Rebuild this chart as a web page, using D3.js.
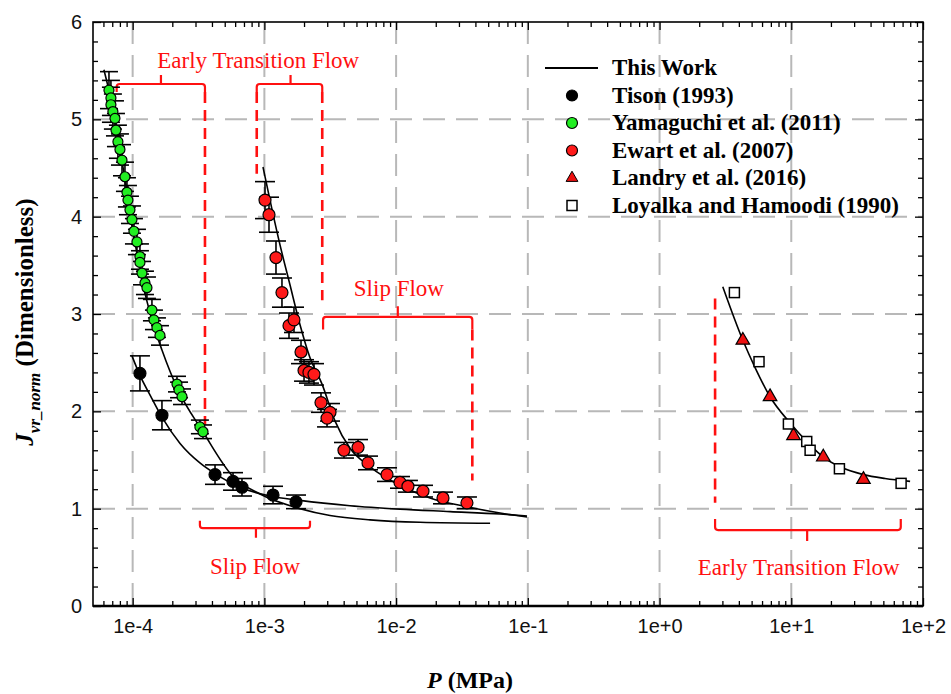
<!DOCTYPE html>
<html>
<head>
<meta charset="utf-8">
<script src="https://cdn.jsdelivr.net/npm/d3@7/dist/d3.min.js"></script>
<style>
  body { margin: 0; background: #fff; }
  .tick text { font-family: "Liberation Sans", Arial, sans-serif; font-size: 20px; fill: #111; }
</style>
</head>
<body>
<script>
// ---- data ----
var tisonP = [1.136e-4, 1.669e-4, 4.22e-4, 5.78e-4, 6.76e-4, 1.163e-3, 1.738e-3];
var tisonJ = [2.39, 1.96, 1.35, 1.28, 1.22, 1.14, 1.07];
var tisonErr = [0.18, 0.15, 0.10, 0.09, 0.09, 0.09, 0.07];

var yamaP = [6.61e-5, 6.84e-5, 6.84e-5, 7.08e-5, 7.34e-5, 7.47e-5, 7.73e-5, 8.01e-5, 8.30e-5, 8.74e-5,
  9.05e-5, 9.21e-5, 9.54e-5, 9.88e-5, 1.023e-4, 1.078e-4, 1.136e-4, 1.136e-4, 1.177e-4, 1.24e-4,
  1.284e-4, 1.401e-4, 1.451e-4, 1.529e-4, 1.612e-4, 2.17e-4, 2.25e-4, 2.37e-4, 3.24e-4, 3.42e-4];
var yamaJ = [5.30, 5.22, 5.15, 5.08, 5.01, 4.89, 4.77, 4.69, 4.58, 4.41,
  4.25, 4.17, 4.07, 3.97, 3.85, 3.74, 3.59, 3.53, 3.42, 3.32,
  3.27, 3.04, 2.94, 2.86, 2.78, 2.28, 2.22, 2.15, 1.84, 1.79];
var yamaErr = [0.19, 0.18, 0.18, 0.18, 0.18, 0.17, 0.17, 0.16, 0.16, 0.15,
  0.15, 0.15, 0.14, 0.14, 0.13, 0.13, 0.13, 0.12, 0.12, 0.12,
  0.11, 0.11, 0.10, 0.10, 0.10, 0.08, 0.08, 0.08, 0.07, 0.07];

var ewartP = [1.011e-3, 1.084e-3, 1.225e-3, 1.36e-3, 1.538e-3, 1.678e-3, 1.897e-3, 2.0e-3, 2.18e-3, 2.38e-3,
  2.69e-3, 3.15e-3, 2.99e-3, 4.02e-3, 5.14e-3, 6.12e-3, 8.53e-3, 0.0107, 0.0123, 0.0160, 0.0227, 0.0345];
var ewartJ = [4.17, 4.02, 3.58, 3.22, 2.88, 2.94, 2.61, 2.42, 2.40, 2.38,
  2.09, 1.99, 1.93, 1.60, 1.63, 1.47, 1.35, 1.27, 1.23, 1.18, 1.11, 1.06];
var ewartErr = [0.19, 0.18, 0.17, 0.15, 0.13, 0.13, 0.12, 0.11, 0.11, 0.11,
  0.10, 0.09, 0.09, 0.08, 0.08, 0.07, 0.07, 0.06, 0.06, 0.06, 0.06, 0.06];

var landryP = [4.29, 6.90, 10.4, 17.5, 35.3];
var landryJ = [2.73, 2.15, 1.75, 1.53, 1.30];

var loyalkaP = [3.70, 5.69, 9.51, 13.1, 13.9, 23.2, 68.2];
var loyalkaJ = [3.22, 2.51, 1.87, 1.69, 1.60, 1.41, 1.26];

// "This Work" model curves
var fitYamaP = [6.05e-5, 6.73e-5, 7.6e-5, 8.74e-5, 1.005e-4, 1.177e-4, 1.401e-4, 1.669e-4, 2.21e-4, 3.42e-4,
  5.78e-4, 9.26e-4, 1.864e-3, 3.15e-3, 6.34e-3, 0.0152, 0.0517];
var fitYamaJ = [5.51, 5.25, 4.89, 4.38, 3.86, 3.35, 2.94, 2.63, 2.22, 1.79,
  1.33, 1.15, 1.00, 0.93, 0.885, 0.86, 0.85];

var fitTisonP = [9.88e-5, 1.136e-4, 1.353e-4, 1.669e-4, 2.29e-4, 3.24e-4, 4.22e-4, 6.53e-4, 1.103e-3, 1.864e-3,
  4.47e-3, 0.0107, 0.0257, 0.0615, 0.0986];
var fitTisonJ = [2.57, 2.37, 2.17, 1.94, 1.67, 1.47, 1.36, 1.22, 1.13, 1.085,
  1.03, 0.995, 0.97, 0.945, 0.925];

var fitEwartP = [9.76e-4, 1.103e-3, 1.314e-3, 1.564e-3, 1.864e-3, 2.22e-3, 2.74e-3, 3.44e-3, 4.47e-3, 6.34e-3,
  0.0107, 0.0181, 0.0345, 0.0615, 0.0986];
var fitEwartJ = [4.51, 4.17, 3.71, 3.30, 2.89, 2.55, 2.28, 1.90, 1.62, 1.43,
  1.24, 1.11, 1.02, 0.955, 0.915];

var fitLandryP = [3.02, 4.29, 5.31, 6.90, 9.8, 13.1, 17.5, 23.5, 35.3, 51.5, 79.8];
var fitLandryJ = [3.28, 2.73, 2.45, 2.15, 1.88, 1.69, 1.53, 1.43, 1.35, 1.31, 1.28];

var xTicks = [1e-4, 1e-3, 1e-2, 1e-1, 1e0, 1e1, 1e2];
var xTickLabels = ["1e-4", "1e-3", "1e-2", "1e-1", "1e+0", "1e+1", "1e+2"];
var yTicks = [0, 1, 2, 3, 4, 5, 6];

var legendNames = ["This Work", "Tison (1993)", "Yamaguchi et al. (2011)", "Ewart et al. (2007)",
  "Landry et al. (2016)", "Loyalka and Hamoodi (1990)"];

// flow-regime annotations (in data units)
var bracketP0 = [7.56e-5, 8.75e-4, 2.79e-3, 3.24e-4, 2.64];
var bracketP1 = [3.54e-4, 2.75e-3, 0.0379, 2.22e-3, 67.8];
var bracketPc = [1.64e-4, 1.58e-3, 0.0103, 8.63e-4, 13.2];
var bracketJ = [5.363, 5.363, 2.97, 0.80, 0.78];
var bracketHookJ = [5.28, 5.28, 2.84, 0.875, 0.894];
var bracketTipJ = [5.456, 5.456, 3.08, 0.70, 0.668];

var dashP = [3.54e-4, 8.75e-4, 2.75e-3, 0.0379, 2.64];
var dashJ0 = [5.28, 5.28, 5.28, 2.84, 3.16];
var dashJ1 = [1.86, 4.44, 3.14, 1.29, 1.06];

var regionText = ["Early Transition Flow", "Slip Flow", "Slip Flow", "Early Transition Flow"];
var regionP = [8.99e-4, 0.0105, 8.5e-4, 11.4];
var regionJ = [5.524, 3.18, 0.33, 0.32];

// ---- layout ----
var margin = { top: 22, right: 28, bottom: 88, left: 93 },
  width = 951 - margin.left - margin.right,
  height = 694 - margin.top - margin.bottom;

var svg = d3
  .select("body")
  .append("svg")
  .attr("width", width + margin.left + margin.right)
  .attr("height", height + margin.top + margin.bottom)
  .append("g")
  .attr("transform", "translate(" + margin.left + "," + margin.top + ")");

var x = d3.scaleLog().domain([5e-5, 100]).range([0, width]);
var y = d3.scaleLinear().domain([0, 6]).range([height, 0]);

// minor ticks
var xMinor = [];
[-5, -4, -3, -2, -1, 0, 1].forEach(function (e) {
  for (var k = 2; k <= 9; k++) {
    var v = k * Math.pow(10, e);
    if (v > 5e-5 && v < 100) xMinor.push(v);
  }
});
var yMinor = d3.range(0, 30).map(function (i) { return i * 0.2; }).filter(function (v, i) { return i % 5 != 0; });

// dashed grid
var grid = svg.append("g").attr("stroke", "#b8b8b8").attr("stroke-width", 2).attr("stroke-dasharray", "22,11");
grid.selectAll(".gx").data(xTicks.slice(0, 6)).enter().append("line")
  .attr("x1", function (d) { return x(d); }).attr("x2", function (d) { return x(d); })
  .attr("y1", 0).attr("y2", height);
grid.selectAll(".gy").data([1, 2, 3, 4, 5]).enter().append("line")
  .attr("y1", function (d) { return y(d); }).attr("y2", function (d) { return y(d); })
  .attr("x1", 0).attr("x2", width);

// axes, ticks pointing inside
function styleAxis(g) {
  g.select(".domain").remove();
  g.selectAll(".tick line").attr("stroke", "#000").attr("stroke-width", 1.3);
}
svg.append("g").attr("transform", "translate(0," + height + ")")
  .call(d3.axisBottom(x).tickValues(xTicks).tickSizeInner(-8).tickPadding(13)
    .tickFormat(function (d, i) { return xTickLabels[i]; }))
  .call(styleAxis);
svg.append("g").attr("transform", "translate(0," + height + ")")
  .call(d3.axisBottom(x).tickValues(xMinor).tickSizeInner(-5).tickFormat(""))
  .call(styleAxis);
svg.append("g")
  .call(d3.axisTop(x).tickValues(xTicks).tickSizeInner(-8).tickFormat(""))
  .call(styleAxis);
svg.append("g")
  .call(d3.axisTop(x).tickValues(xMinor).tickSizeInner(-5).tickFormat(""))
  .call(styleAxis);
svg.append("g")
  .call(d3.axisLeft(y).tickValues(yTicks).tickSizeInner(-8).tickPadding(11).tickFormat(d3.format("d")))
  .call(styleAxis);
svg.append("g")
  .call(d3.axisLeft(y).tickValues(yMinor).tickSizeInner(-5).tickFormat(""))
  .call(styleAxis);
svg.append("g").attr("transform", "translate(" + width + ",0)")
  .call(d3.axisRight(y).tickValues(yTicks).tickSizeInner(-8).tickFormat(""))
  .call(styleAxis);
svg.append("g").attr("transform", "translate(" + width + ",0)")
  .call(d3.axisRight(y).tickValues(yMinor).tickSizeInner(-5).tickFormat(""))
  .call(styleAxis);

svg.append("rect").attr("x", 0).attr("y", 0).attr("width", width).attr("height", height)
  .attr("fill", "none").attr("stroke", "#000").attr("stroke-width", 1.6);
svg.append("line").attr("x1", 0).attr("x2", width).attr("y1", height).attr("y2", height)
  .attr("stroke", "#000").attr("stroke-width", 2.4);

// red regime annotations
var red = "#ff1010";
var ann = svg.append("g").attr("fill", "none").attr("stroke", red).attr("stroke-width", 2.2);
bracketP0.forEach(function (p0, i) {
  var x0 = x(p0), x1 = x(bracketP1[i]), xc = x(bracketPc[i]);
  var yb = y(bracketJ[i]), yh = y(bracketHookJ[i]), yt = y(bracketTipJ[i]);
  var s = yh > yb ? 1 : -1;
  ann.append("path").attr("d",
    "M" + x0 + "," + yh + " L" + x0 + "," + (yb + s * 3) + " Q" + x0 + "," + yb + " " + (x0 + 3) + "," + yb +
    " L" + (x1 - 3) + "," + yb + " Q" + x1 + "," + yb + " " + x1 + "," + (yb + s * 3) + " L" + x1 + "," + yh +
    " M" + xc + "," + yb + " L" + xc + "," + yt);
});
dashP.forEach(function (p, i) {
  ann.append("line").attr("x1", x(p)).attr("x2", x(p))
    .attr("y1", y(dashJ0[i])).attr("y2", y(dashJ1[i]))
    .attr("stroke-width", 2.6).attr("stroke-dasharray", "11,7");
});
regionText.forEach(function (t, i) {
  svg.append("text").attr("x", x(regionP[i])).attr("y", y(regionJ[i]))
    .attr("text-anchor", "middle").attr("fill", red)
    .style("font-family", "'Liberation Serif', 'Times New Roman', serif").style("font-size", "23px")
    .text(t);
});

// model curves
var line = d3.line()
  .x(function (d) { return x(d[0]); })
  .y(function (d) { return y(d[1]); })
  .curve(d3.curveMonotoneX);
[[fitYamaP, fitYamaJ], [fitTisonP, fitTisonJ], [fitEwartP, fitEwartJ], [fitLandryP, fitLandryJ]]
  .forEach(function (c) {
    svg.append("path").datum(d3.zip(c[0], c[1]))
      .attr("d", line).attr("fill", "none").attr("stroke", "#000").attr("stroke-width", 1.6);
  });

// error bars + markers
function errorBars(P, J, E, cap) {
  var g = svg.append("g").attr("stroke", "#000").attr("stroke-width", 1.6);
  P.forEach(function (p, i) {
    var cx = x(p), lo = y(J[i] - E[i]), hi = y(J[i] + E[i]);
    g.append("line").attr("x1", cx).attr("x2", cx).attr("y1", lo).attr("y2", hi);
    g.append("line").attr("x1", cx - cap).attr("x2", cx + cap).attr("y1", lo).attr("y2", lo);
    g.append("line").attr("x1", cx - cap).attr("x2", cx + cap).attr("y1", hi).attr("y2", hi);
  });
}
errorBars(yamaP, yamaJ, yamaErr, 9);
errorBars(tisonP, tisonJ, tisonErr, 10);
errorBars(ewartP, ewartJ, ewartErr, 10);

function circles(P, J, r, fill) {
  svg.append("g").selectAll("circle").data(d3.zip(P, J)).enter().append("circle")
    .attr("cx", function (d) { return x(d[0]); })
    .attr("cy", function (d) { return y(d[1]); })
    .attr("r", r).attr("fill", fill).attr("stroke", "#000").attr("stroke-width", 1.2);
}
circles(yamaP, yamaJ, 5, "#22ee22");
circles(tisonP, tisonJ, 6, "#000");
circles(ewartP, ewartJ, 6, "#ff1a1a");

svg.append("g").selectAll("path").data(d3.zip(landryP, landryJ)).enter().append("path")
  .attr("transform", function (d) { return "translate(" + x(d[0]) + "," + y(d[1]) + ")"; })
  .attr("d", d3.symbol(d3.symbolTriangle, 80))
  .attr("fill", "#ee1111").attr("stroke", "#000").attr("stroke-width", 1.2);
svg.append("g").selectAll("rect").data(d3.zip(loyalkaP, loyalkaJ)).enter().append("rect")
  .attr("x", function (d) { return x(d[0]) - 5; })
  .attr("y", function (d) { return y(d[1]) - 5; })
  .attr("width", 10).attr("height", 10)
  .attr("fill", "#fff").attr("stroke", "#000").attr("stroke-width", 1.5);

// legend
var legend = svg.append("g").attr("transform", "translate(452,46)");
legendNames.forEach(function (name, i) {
  var ly = i * 27.5;
  var mx = 27;
  if (i == 0) {
    legend.append("line").attr("x1", 0).attr("x2", 53).attr("y1", ly).attr("y2", ly)
      .attr("stroke", "#000").attr("stroke-width", 1.8);
  } else if (i == 4) {
    legend.append("path").attr("transform", "translate(" + mx + "," + ly + ")")
      .attr("d", d3.symbol(d3.symbolTriangle, 60)).attr("fill", "#ee1111").attr("stroke", "#000");
  } else if (i == 5) {
    legend.append("rect").attr("x", mx - 5).attr("y", ly - 5).attr("width", 10).attr("height", 10)
      .attr("fill", "#fff").attr("stroke", "#000").attr("stroke-width", 1.5);
  } else {
    var fills = ["", "#000", "#22ee22", "#ff1a1a"];
    legend.append("circle").attr("cx", mx).attr("cy", ly).attr("r", 5.5)
      .attr("fill", fills[i]).attr("stroke", "#000").attr("stroke-width", 1.2);
  }
  legend.append("text").attr("x", 67).attr("y", ly + 7)
    .style("font-family", "'Liberation Serif', 'Times New Roman', serif")
    .style("font-weight", "bold").style("font-size", "23px")
    .text(name);
});

// axis titles
var xt = svg.append("text").attr("x", 377).attr("y", height + 82).attr("text-anchor", "middle")
  .style("font-family", "'Liberation Serif', 'Times New Roman', serif")
  .style("font-weight", "bold").style("font-size", "24px");
xt.append("tspan").style("font-style", "italic").text("P");
xt.append("tspan").text(" (MPa)");

var yt = svg.append("text").attr("transform", "translate(-60," + (height / 2 + 8) + ") rotate(-90)")
  .attr("text-anchor", "middle")
  .style("font-family", "'Liberation Serif', 'Times New Roman', serif")
  .style("font-weight", "bold").style("font-size", "25px");
yt.append("tspan").style("font-style", "italic").text("J");
yt.append("tspan").style("font-style", "italic").style("font-size", "17px").attr("dy", 7).text("vr_norm");
yt.append("tspan").attr("dy", -7).text(" (Dimensionless)");
</script>
</body>
</html>
